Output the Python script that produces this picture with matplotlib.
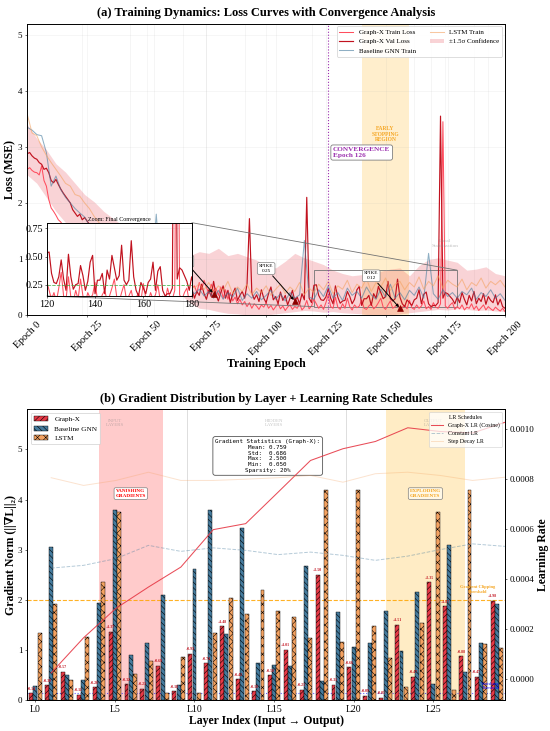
import numpy as np
import matplotlib
matplotlib.use("Agg")
import matplotlib.pyplot as plt
from matplotlib.ticker import FormatStrFormatter
from mpl_toolkits.axes_grid1.inset_locator import mark_inset

plt.rcParams["font.family"] = ["Liberation Serif", "DejaVu Serif"]
plt.rcParams["hatch.linewidth"] = 0.8
plt.rcParams["axes.linewidth"] = 1.4

# ---------------- (a) loss curves ----------------
# Graph-X, one value per epoch (0..200)
val_loss = [
    2.88, 2.90, 2.84, 2.80, 2.78, 2.72, 2.69, 2.60, 2.62, 2.54,
    2.40, 2.36, 2.42, 2.33, 2.25, 2.18, 2.12, 2.06, 2.00, 1.88,
    1.82, 1.76, 1.80, 1.70, 1.74, 1.68, 1.62, 1.58, 1.55, 1.50,
    1.44, 1.40, 1.36, 1.30, 1.26, 1.22, 1.15, 1.12, 1.08, 1.02,
    0.98, 0.95, 0.92, 0.88, 0.84, 0.80, 0.78, 0.75, 0.72, 0.70,
    0.68, 0.66, 0.63, 0.62, 0.60, 0.58, 0.57, 0.55, 0.54, 0.52,
    0.50, 0.52, 0.48, 0.46, 0.50, 0.44, 0.42, 0.48, 0.40, 0.45,
    0.30, 0.42, 0.35, 0.55, 0.38, 0.28, 0.45, 0.33, 0.60, 0.36,
    0.25, 0.40, 0.52, 0.30, 0.44, 0.22, 0.38, 0.48, 0.26, 0.35,
    0.42, 0.30, 0.55, 1.72, 0.40, 0.28, 0.36, 0.24, 0.45, 0.30,
    0.22, 0.38, 0.50, 0.27, 0.33, 0.20, 0.41, 0.26, 0.35, 0.18,
    0.30, 0.44, 0.25, 0.32, 0.20, 0.38, 0.27, 2.10, 0.30, 0.22,
    0.53, 0.54, 0.35, 0.27, 0.26, 0.32, 0.47, 0.30, 0.20, 0.52,
    0.32, 0.21, 0.25, 0.26, 0.42, 0.33, 0.20, 0.28, 0.45, 0.51,
    0.17, 0.29, 0.29, 0.35, 0.17, 0.38, 0.30, 0.51, 0.40, 0.29,
    0.33, 0.60, 0.29, 0.25, 0.29, 0.64, 0.32, 0.20, 0.15, 0.27,
    0.22, 0.17, 0.27, 0.30, 0.45, 0.20, 0.37, 0.41, 0.20, 0.15,
    0.17, 0.17, 0.22, 3.55, 0.30, 0.40, 0.38, 0.33, 0.28, 0.20,
    0.32, 0.22, 0.40, 0.28, 0.18, 0.35, 0.25, 0.42, 0.20, 0.30,
    0.24, 0.38, 0.19, 0.33, 0.26, 0.22, 0.36, 0.18, 0.28, 0.15,
    0.12,
]
train_loss = [
    2.60, 2.63, 2.58, 2.55, 2.54, 2.50, 2.66, 2.40, 2.30, 2.06,
    1.91, 1.85, 1.78, 1.70, 1.66, 1.60, 1.55, 1.50, 1.45, 1.40,
    1.35, 1.30, 1.25, 1.20, 1.16, 1.12, 1.08, 1.04, 1.00, 0.96,
    0.93, 0.90, 0.87, 0.84, 0.81, 0.78, 0.76, 0.73, 0.71, 0.69,
    0.67, 0.65, 0.63, 0.61, 0.60, 0.58, 0.57, 0.55, 0.54, 0.53,
    0.52, 0.51, 0.50, 0.49, 0.48, 0.47, 0.47, 0.46, 0.45, 0.45,
    0.44, 0.46, 0.43, 0.45, 0.42, 0.47, 0.41, 0.44, 0.40, 0.48,
    0.52, 0.40, 0.58, 0.45, 0.62, 0.50, 0.38, 0.55, 0.42, 0.48,
    0.35, 0.50, 0.30, 0.45, 0.28, 0.40, 0.25, 0.32, 0.20, 0.28,
    0.18, 0.24, 0.15, 0.22, 0.12, 0.20, 0.16, 0.10, 0.18, 0.14,
    0.22, 0.12, 0.17, 0.09, 0.15, 0.20, 0.11, 0.16, 0.08, 0.14,
    0.18, 0.10, 0.15, 0.12, 0.20, 0.09, 0.14, 0.26, 0.11, 0.16,
    0.28, 0.20, 0.12, 0.18, 0.10, 0.22, 0.36, 0.15, 0.12, 0.32,
    0.14, 0.10, 0.20, 0.12, 0.30, 0.15, 0.09, 0.18, 0.13, 0.16,
    0.27, 0.12, 0.10, 0.16, 0.20, 0.11, 0.15, 0.22, 0.30, 0.14,
    0.10, 0.18, 0.25, 0.12, 0.15, 0.20, 0.09, 0.14, 0.17, 0.11,
    0.26, 0.13, 0.10, 0.18, 0.12, 0.16, 0.25, 0.11, 0.15, 0.10,
    0.22, 0.14, 0.12, 0.20, 3.45, 0.16, 0.12, 0.18, 0.22, 0.10,
    0.15, 0.11, 0.18, 0.09, 0.14, 0.12, 0.20, 0.10, 0.16, 0.08,
    0.13, 0.18, 0.09, 0.15, 0.11, 0.08, 0.14, 0.10, 0.07, 0.12,
    0.06,
]
# baselines, one value every 2 epochs (0, 2, ..., 200)
gnn_loss = [
    3.35, 3.30, 3.22, 3.20, 2.90, 2.30, 2.48, 2.24, 2.10, 2.00,
    1.90, 1.82, 1.75, 1.60, 1.52, 1.40, 1.30, 1.22, 1.15, 1.08,
    1.00, 0.95, 0.88, 0.84, 0.80, 0.76, 0.72, 1.80, 0.66, 0.62,
    0.58, 0.55, 0.50, 0.48, 0.45, 0.38, 0.46, 0.34, 0.42, 0.30,
    0.44, 0.28, 0.40, 0.32, 0.48, 0.26, 0.38, 0.30, 0.42, 0.27,
    0.35, 0.44, 0.28, 0.38, 0.25, 0.40, 0.30, 0.36, 1.33, 0.32,
    0.28, 0.45, 0.33, 0.52, 0.30, 0.40, 0.26, 0.48, 0.35, 0.42,
    0.30, 0.50, 0.36, 0.28, 0.46, 0.32, 0.55, 0.30, 0.40, 0.27,
    0.44, 0.35, 0.50, 0.30, 1.10, 0.38, 0.28, 0.45, 0.33, 0.40,
    0.30, 0.42, 0.36, 0.48, 0.28, 0.40, 0.33, 0.45, 0.30, 0.38,
    0.26,
]
lstm_loss = [
    3.58, 3.25, 3.20, 3.00, 2.85, 2.72, 2.60, 2.48, 2.35, 2.30,
    2.15, 2.12, 2.00, 1.90, 1.76, 1.65, 1.55, 1.45, 1.38, 1.30,
    1.22, 1.15, 1.08, 1.02, 0.96, 0.90, 0.85, 0.80, 0.75, 0.70,
    0.66, 0.62, 0.58, 0.55, 0.60, 0.48, 0.56, 0.45, 0.58, 0.40,
    0.52, 0.44, 0.60, 0.38, 0.50, 0.42, 0.55, 0.36, 0.48, 0.40,
    0.52, 0.35, 0.46, 0.55, 0.38, 0.50, 0.42, 0.58, 0.36, 0.48,
    0.40, 0.55, 0.45, 0.60, 0.38, 0.52, 0.46, 0.62, 0.40, 0.55,
    0.48, 0.65, 0.42, 0.58, 0.50, 0.66, 0.44, 0.55, 0.60, 0.45,
    0.58, 0.50, 0.68, 0.46, 0.60, 0.52, 0.70, 0.48, 0.62, 0.55,
    0.50, 0.64, 0.45, 0.58, 0.52, 0.66, 0.48, 0.60, 0.54, 0.62,
    0.50,
]
# +-1.5 sigma band, every 4 epochs (0, 4, ..., 200)
band_hi = [
    3.40, 3.15, 2.95, 2.70, 2.55, 2.35, 2.15, 2.02, 1.85, 1.72,
    1.60, 1.50, 1.42, 1.35, 1.30, 1.22, 1.15, 1.06, 1.13, 1.10,
    1.19, 1.06, 1.10, 1.04, 0.98, 0.88, 0.84, 0.96, 1.10, 1.02,
    0.96, 0.90, 0.80, 0.74, 0.70, 0.72, 0.76, 0.78, 0.82, 0.84,
    0.70, 0.88, 0.99, 1.02, 0.98, 0.94, 0.80, 0.82, 0.86, 0.74,
    0.70,
]
band_lo = [
    2.50, 2.35, 2.10, 1.85, 1.65, 1.45, 1.25, 1.10, 0.95, 0.85,
    0.75, 0.66, 0.58, 0.52, 0.46, 0.42, 0.38, 0.22, 0.12, 0.10,
    0.06, 0.03, 0.02, 0.00, 0.01, 0.00, 0.02, 0.04, 0.06, 0.08,
    0.07, 0.05, 0.06, 0.04, 0.03, 0.02, 0.00, 0.01, 0.00, 0.02,
    0.04, 0.06, 0.08, 0.10, 0.09, 0.11, 0.10, 0.08, 0.09, 0.07,
    0.06,
]
faint_epochs = [23, 43, 53, 65, 75, 91, 104, 119, 162, 169, 176, 187, 193]
spike_epochs = [78, 112, 156]
spike_values = [0.38, 0.25, 0.12]
convergence_epoch = 126
early_stop = (140, 160)

# ---------------- (b) gradient norms per layer ----------------
layer_names = ["L0", "L5", "L10", "L15", "L20", "L25"]
gx_grad = [0.14, 0.30, 0.57, 0.11, 0.26, 1.37, 0.32, 0.23, 0.69, 0.18,
           0.93, 0.74, 1.48, 0.42, 0.18, 0.50, 1.01, 0.21, 2.50, 0.31,
           0.66, 0.09, 0.05, 1.51, 0.47, 2.35, 1.87, 0.88, 0.47, 1.98]
gnn_grad = [0.29, 3.05, 0.50, 0.41, 1.93, 3.80, 0.90, 1.15, 2.09, 0.30,
            2.62, 3.80, 1.32, 3.43, 0.75, 0.70, 0.68, 2.68, 0.38, 1.75,
            1.07, 1.14, 1.77, 0.99, 2.15, 0.33, 3.10, 0.56, 1.14, 1.92]
lstm_grad = [1.35, 1.91, 0.40, 1.27, 2.35, 3.75, 0.52, 0.78, 0.14, 0.86,
             0.15, 1.34, 2.04, 1.72, 2.19, 1.77, 1.66, 1.24, 4.20, 1.17,
             4.20, 1.49, 0.84, 0.27, 1.55, 3.76, 0.21, 4.20, 1.13, 1.04]
clip_threshold = 2.0
vanish_threshold = 0.15

# learning-rate schedules, 15 samples spread over the layer axis
lr_pos = np.linspace(1, 29.5, 15)
lr_cosine = [0.000024, 0.000165, 0.000283, 0.000368, 0.000448, 0.000598,
             0.000622, 0.000748, 0.000875, 0.000922, 0.000951, 0.001006,
             0.000991, 0.000985, 0.001028]
lr_constant = [0.000444, 0.000455, 0.000482, 0.000535, 0.000511, 0.000525,
               0.000515, 0.000498, 0.000508, 0.000495, 0.000475, 0.000492,
               0.000518, 0.000541, 0.000531]
lr_step = [0.000806, 0.000775, 0.000795, 0.000828, 0.000795, 0.000795,
           0.000800, 0.000806, 0.000815, 0.000788, 0.000822, 0.000828,
           0.000815, 0.000795, 0.000808]

RED, BLUE, ORANGE = "#E63946", "#457B9D", "#F4A261"
TRAIN_C, VAL_C = "#FF4D5E", "#C1121F"
PURPLE = "#9B2FAE"
GOLD = "#F5A623"

fig = plt.figure(figsize=(11, 14.62), dpi=50)
ax = fig.add_axes([0.0496, 0.5691, 0.8686, 0.3985])
bx = fig.add_axes([0.0496, 0.0420, 0.8686, 0.3981])

# ======================= panel (a) =======================
ep = np.arange(len(val_loss))
ep2 = np.arange(0, 201, 2)
ep4 = np.arange(0, 201, 4)

for e in faint_epochs:
    ax.axvline(e, color="gray", alpha=0.12, lw=0.9, zorder=0)
ax.axvspan(*early_stop, color="#FFD580", alpha=0.4, lw=0, zorder=0)
conf = ax.fill_between(ep4, band_lo, band_hi, color=RED, alpha=0.22, lw=0,
                       label="±1.5σ Confidence")
l_tr, = ax.plot(ep, train_loss, color=TRAIN_C, lw=1.5, label="Graph-X Train Loss")
l_va, = ax.plot(ep, val_loss, color=VAL_C, lw=1.7, label="Graph-X Val Loss")
l_gn, = ax.plot(ep2, gnn_loss, color=BLUE, lw=1.5, alpha=0.6, label="Baseline GNN Train")
l_ls, = ax.plot(ep2, lstm_loss, color=ORANGE, lw=1.5, alpha=0.6, label="LSTM Train")

ax.axvline(convergence_epoch, color=PURPLE, ls=":", lw=1.6)
ax.text(convergence_epoch + 2, 2.9, f"CONVERGENCE\nEpoch {convergence_epoch}",
        color=PURPLE, fontsize=10.5, fontweight="bold", va="center", ha="left",
        bbox=dict(boxstyle="round,pad=0.3", fc="white", ec="gray", lw=1.2))
ax.text(np.mean(early_stop), 3.23, "EARLY\nSTOPPING\nREGION", color=GOLD,
        fontsize=8, fontweight="bold", ha="center", va="center")
ax.text(175, 1.28, "Local\nStabilization", color="gray", alpha=0.5,
        fontsize=7.5, ha="center", va="center")

ax.scatter(spike_epochs, spike_values, marker="^", s=70, color="#8B0000",
           zorder=6)
for e, v in zip(spike_epochs, spike_values):
    ax.annotate(f"SPIKE\n{v:.2f}", xy=(e, v), xytext=(e - 12, v + 0.58),
                fontsize=7.5, ha="center", va="center",
                bbox=dict(boxstyle="round,pad=0.3", fc="white", ec="gray", lw=1),
                arrowprops=dict(arrowstyle="-|>", color="black", lw=1.4),
                zorder=7)

ax.set_xlim(0, 200)
ax.set_ylim(0, 5.2)
ax.set_xticks(np.arange(0, 201, 25))
ax.set_xticklabels([f"Epoch {t}" for t in range(0, 201, 25)], rotation=45,
                   fontsize=14.5)
ax.tick_params(axis="y", labelsize=13)
ax.grid(True, alpha=0.2)
ax.set_xlabel("Training Epoch", fontsize=17, fontweight="bold", labelpad=2)
ax.set_ylabel("Loss (MSE)", fontsize=17, fontweight="bold", labelpad=2)
ax.set_title("(a) Training Dynamics: Loss Curves with Convergence Analysis",
             fontsize=18, fontweight="bold", pad=11)
ax.legend(handles=[l_tr, l_va, l_gn, l_ls, conf], ncol=2, loc="upper right",
          fontsize=10, framealpha=0.9, borderaxespad=0.4)

# zoom inset
axins = fig.add_axes([0.0849, 0.5951, 0.2636, 0.1003])
axins.plot(ep, train_loss, color=TRAIN_C, lw=1.5)
axins.plot(ep, val_loss, color=VAL_C, lw=1.7)
axins.axhline(0.25, color="#3CB043", ls="--", lw=1.3, alpha=0.8)
axins.set_xlim(120, 180)
axins.set_ylim(0.15, 0.80)
axins.set_xticks([120, 140, 160, 180])
axins.set_yticks([0.25, 0.50, 0.75])
axins.yaxis.set_major_formatter(FormatStrFormatter("%.2f"))
axins.tick_params(labelsize=14.5, pad=2)
axins.grid(True, alpha=0.25)
axins.set_title("Zoom: Final Convergence", fontsize=8.5, pad=2)
mark_inset(ax, axins, loc1=1, loc2=3, fc="none", ec="0.45", lw=1.2)

# ======================= panel (b) =======================
layers = np.arange(len(gx_grad))
w = 0.27
bx.axvspan(4, 8, color="#FF9999", alpha=0.5, lw=0, zorder=0)
bx.axvspan(22, 27, color="#FFD580", alpha=0.45, lw=0, zorder=0)
for xs in (9.5, 19.5):
    bx.axvline(xs, color="gray", alpha=0.3, lw=1.2, zorder=0)

bx.bar(layers - w, gx_grad, w * 0.92, color=RED, edgecolor="black", lw=0.6,
       hatch="///", label="Graph-X", zorder=3)
bx.bar(layers, gnn_grad, w * 0.92, color=BLUE, edgecolor="black", lw=0.6,
       hatch="\\\\\\", label="Baseline GNN", zorder=3)
bx.bar(layers + w, lstm_grad, w * 0.92, color=ORANGE, edgecolor="black", lw=0.6,
       hatch="xx", label="LSTM", zorder=3)
for x, v in zip(layers, gx_grad):
    bx.text(x - w, v + 0.05, f"+{v:.2f}", fontsize=5.5, color=VAL_C,
            fontweight="bold", ha="center", va="bottom", zorder=4)

bx.axhline(clip_threshold, color="#FFA500", ls="--", lw=1.6, alpha=0.85, zorder=2)
bx.text(27.8, clip_threshold + 0.12, "Gradient Clipping\nThreshold", color=GOLD,
        fontsize=6.5, fontweight="bold", ha="center", va="bottom", zorder=4)
bx.axhline(vanish_threshold, color="blue", ls=":", lw=1.6, alpha=0.6, zorder=2)
bx.text(28.6, vanish_threshold + 0.05, "Vanishing\nThreshold", color="blue",
        fontsize=6.5, ha="center", va="bottom", zorder=4)

for gx, name in zip((5, 15, 25), ("INPUT\nLAYERS", "HIDDEN\nLAYERS", "OUTPUT\nLAYERS")):
    bx.text(gx, 5.53, name, color="gray", alpha=0.45, fontsize=7,
            ha="center", va="center")
bx.text(6, 4.12, "VANISHING\nGRADIENTS", color="red", fontsize=7.3,
        fontweight="bold", ha="center", va="center", zorder=5,
        bbox=dict(boxstyle="round,pad=0.3", fc="white", ec="gray", lw=1))
bx.text(24.5, 4.12, "EXPLODING\nGRADIENTS", color=GOLD, fontsize=7.3,
        fontweight="bold", ha="center", va="center", zorder=5,
        bbox=dict(boxstyle="round,pad=0.3", fc="#FFF8E6", ec="gray", lw=1))

gx_arr = np.array(gx_grad)
stats = (f"Gradient Statistics (Graph-X):\n"
         f"Mean: {gx_arr.mean():.3f}\n"
         f"Std:  {gx_arr.std():.3f}\n"
         f"Max:  {gx_arr.max():.3f}\n"
         f"Min:  {gx_arr.min():.3f}\n"
         f"Sparsity: 20%")
bx.text(14.6, 4.87, stats, family="DejaVu Sans Mono", fontsize=8.5,
        ha="center", va="center", multialignment="center", zorder=5,
        bbox=dict(boxstyle="round,pad=0.4", fc="white", ec="#555555", lw=1.2))

bx.set_xlim(-0.5, 29.5)
bx.set_ylim(0, 5.8)
bx.set_xticks(np.arange(0, 30, 5))
bx.set_xticklabels(layer_names, fontsize=14)
bx.tick_params(axis="y", labelsize=13)
bx.set_xlabel("Layer Index (Input → Output)", fontsize=17, fontweight="bold",
              labelpad=1)
bx.set_ylabel("Gradient Norm (||∇L||₂)", fontsize=17, fontweight="bold",
              labelpad=2)
bx.set_title("(b) Gradient Distribution by Layer + Learning Rate Schedules",
             fontsize=18, fontweight="bold", pad=11)
bx.legend(loc="upper left", fontsize=10.5, framealpha=0.9)

lx = bx.twinx()
lx.plot(lr_pos, lr_cosine, color=RED, lw=1.5, alpha=0.9, label="Graph-X LR (Cosine)")
lx.plot(lr_pos, lr_constant, color=BLUE, ls="--", lw=1.4, alpha=0.4, label="Constant LR")
lx.plot(lr_pos, lr_step, color=ORANGE, lw=1.4, alpha=0.3, label="Step Decay LR")
lx.set_ylim(-0.0000855, 0.00108)
lx.set_yticks(np.arange(0, 0.00101, 0.0002))
lx.yaxis.set_major_formatter(FormatStrFormatter("%.4f"))
lx.tick_params(labelsize=13)
lx.set_ylabel("Learning Rate", fontsize=17, fontweight="bold")
leg = lx.legend(loc="upper right", fontsize=8.5, title="LR Schedules",
                title_fontsize=8.5, framealpha=0.75)

fig.savefig("out.png", dpi=50)
